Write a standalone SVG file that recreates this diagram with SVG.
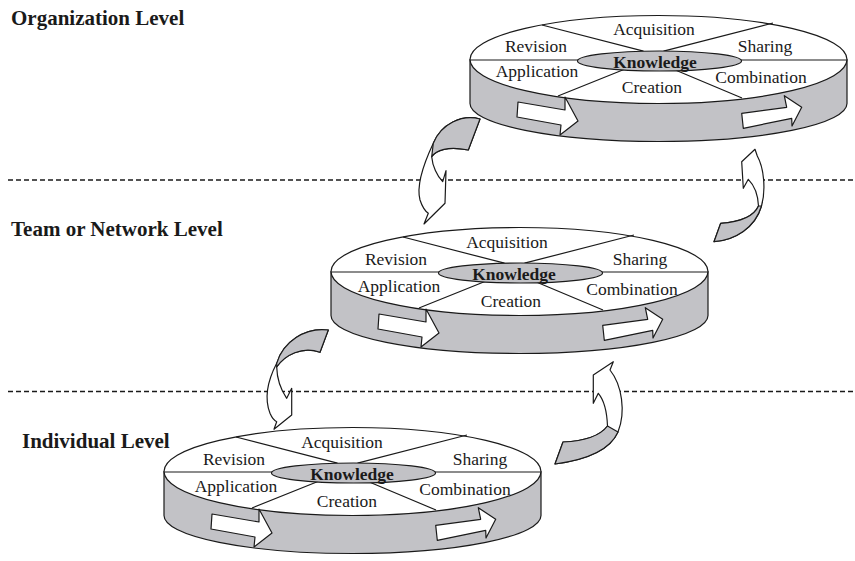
<svg xmlns="http://www.w3.org/2000/svg" xmlns:xlink="http://www.w3.org/1999/xlink" width="855" height="561" viewBox="0 0 855 561">
  <style>
    .edge { stroke: #1a1a1a; stroke-width: 1.2; stroke-linejoin: round; }
    .grey { fill: #c2c2c6; }
    .white { fill: #ffffff; }
    .spoke { stroke: #1a1a1a; stroke-width: 1.2; fill: none; }
    .dash { stroke: #1a1a1a; stroke-width: 1.6; stroke-dasharray: 5 3; fill: none; }
    .lvl { font-family: "Liberation Serif", "Times New Roman", serif; font-weight: bold; font-size: 21px; fill: #1a1a1a; }
    .lbl { font-family: "Liberation Serif", "Times New Roman", serif; font-size: 17.5px; fill: #1a1a1a; text-anchor: middle; }
    .core { font-weight: bold; }
  </style>
  <defs>
    <!-- one knowledge disc, centred on the middle of its top face -->
    <g id="disc">
      <path class="edge grey" d="M -188.5,0 V 44 A 188.5 38 0 0 0 188.5 44 V 0 Z"/>
      <ellipse class="edge white" cx="0" cy="0" rx="188.5" ry="44"/>
      <path class="spoke" d="M -188.5,0.5 H 188.5 M -116.5,-34.5 L -15,-8.3 M 114.5,-36.5 L 5,-8.3 M -100.5,36.5 L -34,9.7 M 18,11 L 83.5,38.5"/>
      <ellipse class="edge grey" cx="1" cy="1.5" rx="82" ry="10"/>
      <polygon class="edge white" points="-140.5,42.5 -93.5,50.5 -93.5,37.5 -80.5,61.5 -98.5,75.5 -97.5,65.5 -141.5,57.5"/>
      <polygon class="edge white" points="83.2,53.8 128.2,47.8 125.8,36.2 143.2,47.8 133.5,66.5 133.2,58.8 84.8,68.8"/>
    </g>
  </defs>

  <rect width="855" height="561" fill="#ffffff"/>

  <!-- level separators -->
  <g id="separators">
    <line class="dash" x1="8" y1="180" x2="855" y2="180"/>
    <line class="dash" x1="8" y1="391.5" x2="855" y2="391.5"/>
  </g>

  <!-- level titles -->
  <g id="levels">
    <text class="lvl" x="11" y="25">Organization Level</text>
    <text class="lvl" x="11" y="236">Team or Network Level</text>
    <text class="lvl" x="22" y="448">Individual Level</text>
  </g>

  <g id="node-organization">
    <use xlink:href="#disc" transform="translate(658.5,59.5)"/>
    <text class="lbl" x="654" y="35">Acquisition</text>
    <text class="lbl" x="536" y="52">Revision</text>
    <text class="lbl" x="765" y="52">Sharing</text>
    <text class="lbl core" x="655" y="68">Knowledge</text>
    <text class="lbl" x="537" y="77">Application</text>
    <text class="lbl" x="652" y="93">Creation</text>
    <text class="lbl" x="761" y="83">Combination</text>
  </g>

  <g id="node-team">
    <use xlink:href="#disc" transform="translate(519.5,271.5)"/>
    <text class="lbl" x="507" y="248">Acquisition</text>
    <text class="lbl" x="396" y="265">Revision</text>
    <text class="lbl" x="640" y="265">Sharing</text>
    <text class="lbl core" x="514" y="280">Knowledge</text>
    <text class="lbl" x="399" y="292">Application</text>
    <text class="lbl" x="511" y="307">Creation</text>
    <text class="lbl" x="632" y="295">Combination</text>
  </g>

  <g id="node-individual">
    <use xlink:href="#disc" transform="translate(352.5,471.5)"/>
    <text class="lbl" x="342" y="448">Acquisition</text>
    <text class="lbl" x="234" y="465">Revision</text>
    <text class="lbl" x="480" y="465">Sharing</text>
    <text class="lbl core" x="352" y="480">Knowledge</text>
    <text class="lbl" x="236" y="492">Application</text>
    <text class="lbl" x="347" y="507">Creation</text>
    <text class="lbl" x="465" y="495">Combination</text>
  </g>

  <!-- curved ribbon arrows between the levels -->
  <g id="connectors">
    <!-- organization down to team -->
    <g id="arrow-org-team">
      <path class="edge white" d="M 480,119 C 462,114 441,124 433.3,143.3 C 424,163 416,185 420,200 C 422,206 425,211 428.3,213.3 L 424,224 L 445,203.3 L 446,170.7 L 442.7,181.7 C 437,176 432.5,166 431.7,156.7 C 436,150 448,146 468.3,150 Z"/>
      <path class="edge grey" d="M 480,119 C 462,114 441,124 433.3,143.3 L 431.7,156.7 C 436,150 448,146 468.3,150 Z"/>
    </g>
    <!-- team up to organization -->
    <g id="arrow-team-org">
      <path class="edge white" d="M 714,241.7 C 735,240 755,228 761.5,206 C 766,190 764,168 757.3,156 L 755,149.3 L 741.7,161.7 L 743.3,188.3 L 748.3,179.3 C 754,185 758,195 758.5,206 C 754,216 740,222 720.7,223.3 Z"/>
      <path class="edge grey" d="M 714,241.7 C 735,240 755,228 761.5,206 L 758.5,206 C 754,216 740,222 720.7,223.3 Z"/>
    </g>
    <!-- team down to individual -->
    <g id="arrow-team-individual">
      <path class="edge white" d="M 328.3,330 C 305,327 283,342 276.7,363.3 C 268,380 264,398 270,413.3 C 272,418 275,421 276.7,421.7 L 274,429.3 L 291.7,415 L 291.7,388.3 L 286.7,398.3 C 281,390 277,378 276.7,367 C 285,355 302,346 320,352.3 Z"/>
      <path class="edge grey" d="M 328.3,330 C 305,327 283,342 276.7,363.3 L 276.7,367 C 285,355 302,346 320,352.3 Z"/>
    </g>
    <!-- individual up to team -->
    <g id="arrow-individual-team">
      <path class="edge white" d="M 555,464 C 585,460 610,450 618,432 C 626,412 622,385 610,370 L 613.3,361.7 L 593.3,375 L 593.3,403.3 L 598.3,393.3 C 604,400 607,413 607.5,426 C 600,436 585,441 563,442 Z"/>
      <path class="edge grey" d="M 555,464 C 585,460 610,450 618,432 L 607.5,426 C 600,436 585,441 563,442 Z"/>
    </g>
  </g>
</svg>
